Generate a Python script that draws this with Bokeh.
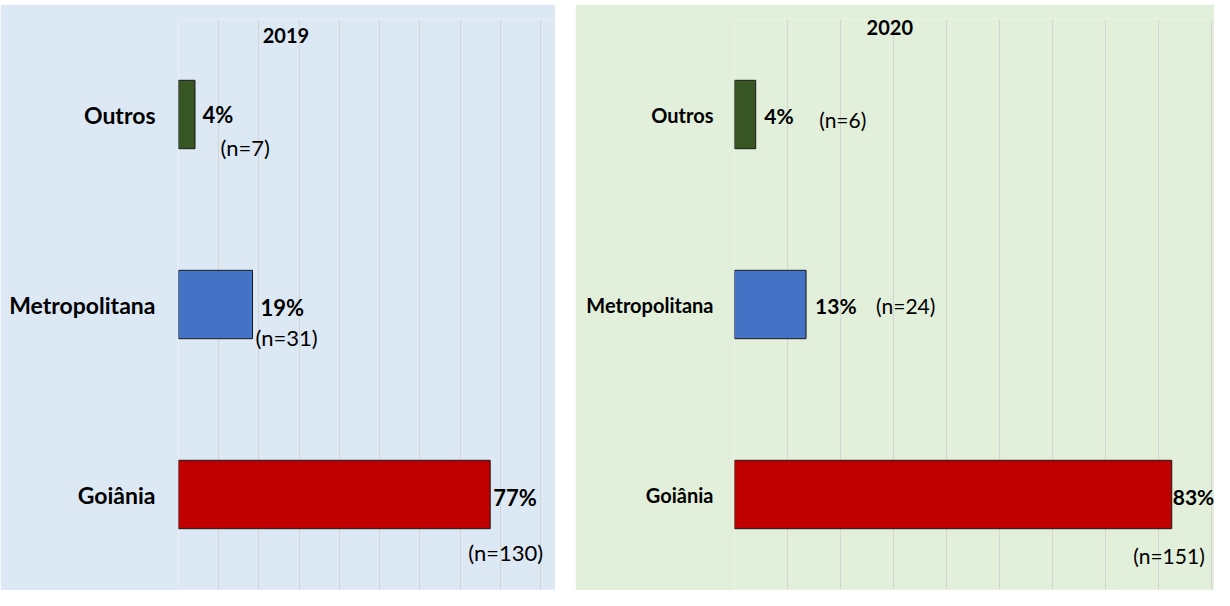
from bokeh.plotting import figure
from bokeh.models import FactorRange, FixedTicker, ColumnDataSource, Label, Range1d
from bokeh.layouts import row, column, Spacer
from bokeh.core.properties import value
from bokeh.embed import file_html
from bokeh.resources import INLINE

# ---------------- data ----------------
categories = ["Goiânia", "Metropolitana", "Outros"]
bar_colors = ["#C00000", "#4472C4", "#375623"]

values_2019 = [77.5, 18.4, 4.1]
pct_2019 = ["77%", "19%", "4%"]
n_2019 = ["(n=130)", "(n=31)", "(n=7)"]

values_2020 = [82.5, 13.5, 4.0]
pct_2020 = ["83%", "13%", "4%"]
n_2020 = ["(n=151)", "(n=24)", "(n=6)"]

grid_ticks = [0, 10, 20, 30, 40, 50, 60, 70, 80, 90]

# ---------------- layout / style (pixel offsets of the labels) ----------------
FONT = "Lato"

def make_panel(title, title_x, title_y, vals, pcts, ns, bg, width, frame_left, px_per_unit,
               cat_size, lab_size, standoff, pct_off, n_off):
    frame_w = width - frame_left
    p = figure(width=width, height=586, output_backend="svg", toolbar_location=None,
               y_range=FactorRange(factors=categories),
               x_range=Range1d(0, frame_w / px_per_unit),
               x_axis_location=None)
    p.min_border = 0
    p.min_border_left = frame_left
    p.min_border_right = 0
    p.min_border_top = 15
    p.min_border_bottom = 1
    p.background_fill_color = bg
    p.border_fill_color = bg
    p.outline_line_color = None

    p.xgrid.ticker = FixedTicker(ticks=grid_ticks)
    p.xgrid.grid_line_color = "#D4D4D4"
    p.xgrid.grid_line_width = 1
    p.ygrid.grid_line_color = None

    ax = p.yaxis[0]
    ax.axis_line_color = None
    ax.major_tick_line_color = None
    ax.minor_tick_line_color = None
    ax.major_tick_out = 0
    ax.major_tick_in = 0
    ax.major_label_standoff = standoff
    ax.major_label_text_font = FONT
    ax.major_label_text_font_style = "bold"
    ax.major_label_text_font_size = f"{cat_size}px"
    ax.major_label_text_color = "#000000"

    src = ColumnDataSource(dict(cat=categories, val=vals, color=bar_colors, pct=pcts, n=ns,
                                pdx=[o[0] for o in pct_off], pdy=[o[1] for o in pct_off],
                                ndx=[o[0] for o in n_off], ndy=[o[1] for o in n_off]))
    p.hbar(y="cat", right="val", left=0, height=0.36, fill_color="color",
           line_color="#1A1A1A", line_width=1, source=src)

    p.text(x="val", y="cat", text="pct", x_offset="pdx", y_offset="pdy", source=src,
           text_font=value(FONT), text_font_style="bold", text_font_size=f"{lab_size}px",
           text_align="left", text_baseline="middle", text_color="#000000")
    p.text(x="val", y="cat", text="n", x_offset="ndx", y_offset="ndy", source=src,
           text_font=value(FONT), text_font_style="normal", text_font_size=f"{lab_size}px",
           text_align="left", text_baseline="middle", text_color="#000000")

    p.add_layout(Label(x=title_x, y=title_y, text=title, text_font=FONT,
                       text_font_style="bold", text_font_size="20px",
                       text_align="center", text_baseline="middle", text_color="#000000"))
    return p


p1 = make_panel("2019", 26.7, 2.916, values_2019, pct_2019, n_2019, "#DDE8F5",
                width=555, frame_left=178, px_per_unit=4.022,
                cat_size=23, lab_size=22, standoff=23,
                pct_off=[(3, 3), (8, 3), (7.5, 0)],
                n_off=[(-22, 58), (3, 33), (25.5, 33)])

p2 = make_panel("2020", 29.3, 2.958, values_2020, pct_2020, n_2020, "#E2EFDA",
                width=639, frame_left=159, px_per_unit=5.3,
                cat_size=20, lab_size=21, standoff=21,
                pct_off=[(1, 2), (9, 1), (8.5, 1)],
                n_off=[(-38.5, 61), (70, 1), (63.5, 5)])

layout = column(Spacer(height=4), row(p1, Spacer(width=20), p2, spacing=0), spacing=0)

open("out.html", "w").write(file_html(layout, INLINE))
